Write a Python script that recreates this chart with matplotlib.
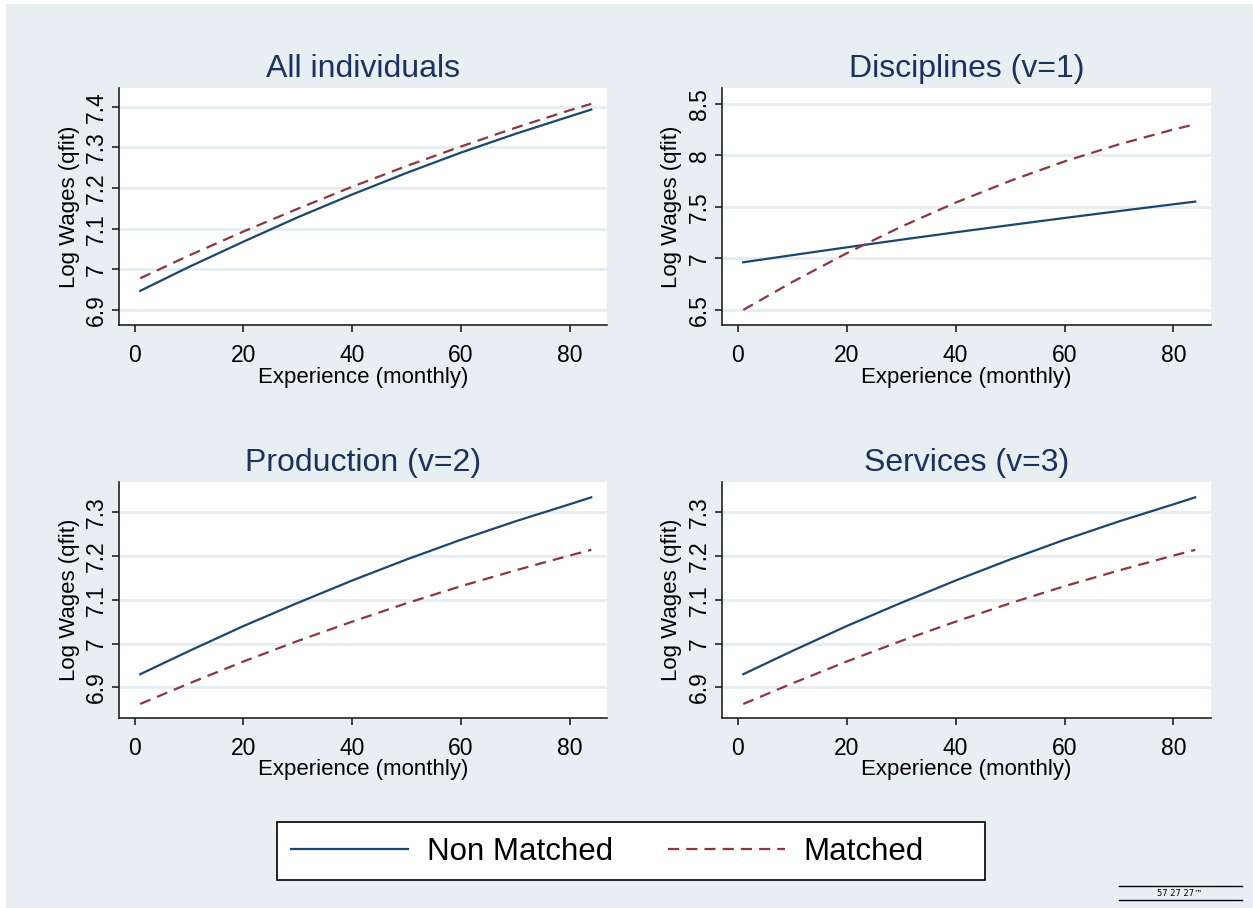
import matplotlib
matplotlib.use("Agg")
import matplotlib.pyplot as plt
from matplotlib.patches import Rectangle
from matplotlib.lines import Line2D

plt.rcParams['font.family'] = ['Liberation Sans', 'DejaVu Sans']

# experience (months) at which the fitted curves are read
exper = [1, 10, 20, 30, 40, 50, 60, 70, 80, 84]

# All individuals
all_nm = [6.947, 7.006, 7.068, 7.128, 7.184, 7.237, 7.287, 7.333, 7.376, 7.393]
all_m = [6.978, 7.034, 7.093, 7.149, 7.203, 7.254, 7.302, 7.348, 7.391, 7.407]

# Disciplines (v=1)
disc_nm = [6.963, 7.032, 7.108, 7.182, 7.254, 7.324, 7.393, 7.460, 7.526, 7.552]
disc_m = [6.500, 6.771, 7.051, 7.308, 7.542, 7.753, 7.942, 8.108, 8.252, 8.303]

# Production (v=2)
prod_nm = [6.930, 6.983, 7.040, 7.093, 7.144, 7.192, 7.237, 7.279, 7.318, 7.334]
prod_m = [6.862, 6.909, 6.959, 7.006, 7.050, 7.092, 7.131, 7.167, 7.201, 7.214]

# Services (v=3)
serv_nm = [6.930, 6.983, 7.040, 7.093, 7.144, 7.192, 7.237, 7.279, 7.318, 7.334]
serv_m = [6.862, 6.909, 6.959, 7.006, 7.050, 7.092, 7.131, 7.167, 7.201, 7.214]

titles = ["All individuals", "Disciplines (v=1)", "Production (v=2)", "Services (v=3)"]
series_nm = [all_nm, disc_nm, prod_nm, serv_nm]
series_m = [all_m, disc_m, prod_m, serv_m]
yticks = [[6.9, 7, 7.1, 7.2, 7.3, 7.4],
          [6.5, 7, 7.5, 8, 8.5],
          [6.9, 7, 7.1, 7.2, 7.3],
          [6.9, 7, 7.1, 7.2, 7.3]]
ytick_labels = [["6.9", "7", "7.1", "7.2", "7.3", "7.4"],
                ["6.5", "7", "7.5", "8", "8.5"],
                ["6.9", "7", "7.1", "7.2", "7.3"],
                ["6.9", "7", "7.1", "7.2", "7.3"]]
ylims = [(6.863, 7.446), (6.354, 8.655), (6.830, 7.369), (6.830, 7.369)]
xticks = [0, 20, 40, 60, 80]

W, H = 1253, 908
bg = '#e8eff2'
grid_c = '#e4edf0'
navy = '#1a476f'
maroon = '#90353b'
title_c = '#1c3160'

fig = plt.figure(figsize=(W / 100, H / 100), dpi=100)
fig.patch.set_facecolor('white')
fig.patches.append(Rectangle((6 / W, 0), 1 - 6 / W, 1 - 4 / H, transform=fig.transFigure,
                             facecolor=bg, edgecolor='none', zorder=-10))

# panel boxes in pixels: left, top, right, bottom
boxes = [(119, 88, 607, 325), (722, 88, 1211, 325),
         (119, 482, 607, 718), (722, 482, 1211, 718)]

for i in range(4):
    l, t, r, b = boxes[i]
    ax = fig.add_axes([l / W, 1 - b / H, (r - l) / W, (b - t) / H])
    ax.set_facecolor('white')
    ax.plot(exper, series_nm[i], color=navy, lw=1.6)
    ax.plot(exper, series_m[i], color=maroon, lw=1.6, dashes=(5, 3.2))
    ax.set_xlim(-2.9, 86.9)
    ax.set_ylim(*ylims[i])
    ax.set_xticks(xticks)
    ax.set_xticklabels([str(v) for v in xticks], fontsize=16.5)
    ax.set_yticks(yticks[i])
    ax.set_yticklabels(ytick_labels[i], fontsize=16.5, rotation=90, va='center')
    ax.grid(axis='y', color=grid_c, lw=2)
    ax.set_axisbelow(True)
    for s in ['top', 'right']:
        ax.spines[s].set_visible(False)
    for s in ['left', 'bottom']:
        ax.spines[s].set_color('#222222')
        ax.spines[s].set_linewidth(1.2)
    ax.tick_params(length=5, width=1.2, color='#222222')
    ax.tick_params(axis='x', pad=8.5)
    ax.tick_params(axis='y', pad=3)
    ax.set_xlabel("Experience (monthly)", fontsize=16)
    ax.set_ylabel("Log Wages (qfit)", fontsize=16)
    ax.xaxis.set_label_coords(0.5, -52 / (b - t))
    ax.yaxis.set_label_coords(-50 / (r - l), 0.5)
    ax.xaxis.label.set_va('center')
    ax.yaxis.label.set_va('center')
    ax.text(0.5, 1 + 19 / (b - t), titles[i], transform=ax.transAxes,
            ha='center', va='center', fontsize=23, color=title_c)

# legend box (drawn separately so it can be wider than its entries, like Stata)
fig.patches.append(Rectangle((277 / W, 1 - 880 / H), 708 / W, 58 / H, transform=fig.transFigure,
                             facecolor='white', edgecolor='black', lw=1.2, zorder=1))
handles = [Line2D([], [], color=navy, lw=1.6),
           Line2D([], [], color=maroon, lw=1.6, dashes=(5, 3.2))]
leg = fig.legend(handles, ["Non Matched", "Matched"], loc='center left',
                 bbox_to_anchor=(263 / W, 1 - 852 / H), ncol=2, fontsize=22.5,
                 frameon=False, handlelength=3.75,
                 handletextpad=0.6, columnspacing=1.75, borderpad=0.4)
leg.set_zorder(2)

# small mark in the bottom right corner
fig.add_artist(Line2D([1119 / W, 1242 / W], [1 - 886 / H, 1 - 886 / H], color='black', lw=1))
fig.add_artist(Line2D([1119 / W, 1242 / W], [1 - 900 / H, 1 - 900 / H], color='black', lw=1))
fig.text(1180 / W, 1 - 893 / H, "57 27 27\u2122", fontsize=6, ha='center', va='center',
         family='DejaVu Sans')

fig.savefig("out.png", dpi=100, facecolor=fig.get_facecolor())
